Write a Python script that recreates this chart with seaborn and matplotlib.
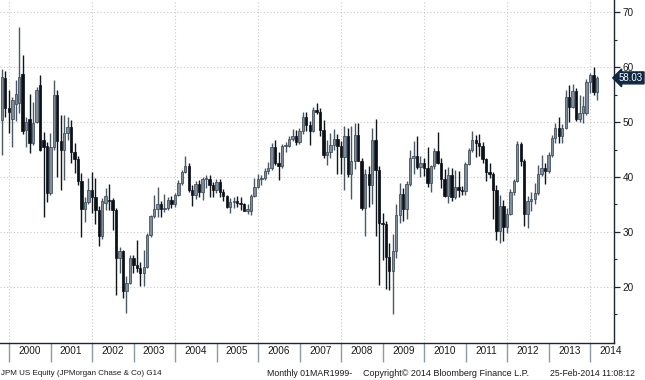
import pandas as pd
import matplotlib
matplotlib.use("Agg")
import matplotlib.pyplot as plt
import matplotlib.transforms as mtransforms
import seaborn as sns

# monthly candles, Oct 1999 .. Feb 2014 (month end)
months = pd.date_range("1999-10-31", "2014-02-28", freq="ME")

opens = [
    50.4, 58.0, 52.5,
    50.5, 53.2, 53.5, 58.8, 48.6, 50.6, 46.2, 50.0, 56.7, 46.7, 45.6, 37.1,
    45.5, 55.0, 46.6, 44.9, 48.0, 49.1, 44.6, 43.3, 39.2, 34.2, 35.4, 37.7,
    36.4, 34.0, 29.2, 35.3, 35.8, 35.8, 34.0, 25.2, 26.5, 19.2, 20.7, 25.2,
    24.0, 23.4, 22.6, 23.7, 29.4, 32.9, 34.2, 35.0, 34.2, 34.3, 35.9, 35.1,
    36.7, 38.9, 41.0, 42.0, 37.6, 36.8, 38.8, 37.3, 39.6, 39.7, 38.6, 37.7,
    39.0, 37.3, 36.6, 34.6, 35.5, 35.7, 35.3, 35.1, 33.9, 33.9, 36.6, 38.2,
    39.7, 39.8, 41.1, 41.6, 45.4, 42.6, 42.0, 45.6, 45.7, 46.9, 47.4, 46.3,
    48.3, 50.9, 49.4, 48.4, 52.1, 51.8, 48.5, 44.0, 44.5, 45.8, 47.0, 45.6,
    43.7, 47.5, 40.6, 43.0, 47.7, 43.0, 34.3, 40.6, 38.5, 46.7, 41.3, 31.6,
    31.5, 25.5, 22.9, 26.6, 33.0, 36.9, 34.1, 38.7, 43.5, 43.8, 41.8, 42.5,
    41.7, 38.9, 42.0, 44.8, 42.6, 39.6, 36.6, 40.3, 36.4, 38.1, 37.6, 37.4,
    42.4, 44.9, 46.7, 46.1, 45.6, 43.2, 40.9, 40.5, 37.6, 30.1, 34.8, 30.9,
    33.3, 37.3, 39.2, 46.0, 43.0, 33.2, 35.7, 36.0, 37.1, 40.5, 41.7, 41.1,
    44.0, 47.1, 48.9, 47.5, 49.0, 54.6, 52.8, 55.7, 50.5, 51.7, 51.6, 57.2,
    58.5, 55.4,
]
highs = [
    59.6, 59.2, 55.8,
    54.5, 57.6, 67.3, 62.2, 51.0, 55.1, 53.7, 56.4, 58.5, 48.2, 46.4, 48.0,
    57.6, 55.8, 51.3, 51.3, 51.0, 50.3, 46.1, 43.8, 40.7, 36.4, 39.8, 41.0,
    39.8, 34.8, 36.2, 38.0, 38.8, 36.1, 34.3, 27.3, 26.8, 21.9, 25.8, 25.8,
    28.5, 24.6, 26.7, 29.8, 33.0, 36.7, 38.2, 35.7, 36.9, 36.4, 36.6, 37.0,
    39.5, 41.3, 43.8, 42.6, 38.6, 39.2, 39.4, 40.0, 40.3, 40.3, 39.0, 39.7,
    39.7, 37.9, 36.8, 36.1, 36.4, 36.5, 36.3, 35.3, 35.0, 36.9, 39.8, 40.6,
    40.4, 41.6, 42.8, 46.1, 46.8, 44.6, 46.0, 46.4, 47.4, 48.8, 48.5, 49.0,
    51.9, 51.9, 50.2, 52.8, 53.4, 52.5, 50.4, 46.7, 48.0, 48.7, 47.9, 46.5,
    49.3, 49.0, 49.3, 49.8, 49.9, 43.5, 41.5, 42.0, 49.0, 50.6, 42.0, 33.5,
    32.0, 28.0, 29.6, 35.0, 38.9, 38.0, 39.3, 45.0, 46.5, 47.5, 43.8, 43.4,
    45.5, 42.2, 45.2, 48.2, 43.4, 41.5, 41.9, 41.7, 41.3, 41.1, 38.3, 42.7,
    45.2, 48.4, 47.6, 47.8, 46.4, 43.4, 42.5, 41.0, 38.5, 36.7, 35.9, 34.3,
    37.8, 39.7, 46.5, 46.3, 43.3, 36.6, 37.3, 38.9, 42.2, 44.0, 42.5, 44.5,
    47.6, 49.8, 51.0, 49.6, 55.9, 56.7, 57.0, 56.1, 54.9, 54.8, 57.8, 58.9,
    60.1, 58.4,
]
lows = [
    44.0, 51.0, 48.0,
    45.5, 50.1, 51.6, 47.8, 45.5, 44.3, 45.8, 49.8, 44.8, 32.8, 35.5, 36.8,
    45.0, 40.0, 37.6, 39.5, 46.7, 42.5, 40.7, 38.5, 29.0, 31.9, 35.0, 33.5,
    31.5, 27.5, 28.8, 34.0, 34.0, 30.4, 18.5, 22.5, 18.0, 15.3, 20.5, 22.5,
    22.8, 20.1, 20.1, 23.5, 29.0, 32.5, 32.8, 32.8, 33.6, 34.0, 34.3, 34.5,
    36.5, 38.5, 40.7, 37.3, 34.8, 36.0, 36.3, 35.8, 38.0, 36.3, 36.3, 37.0,
    36.3, 35.6, 34.3, 33.4, 34.3, 34.6, 34.0, 33.8, 33.2, 33.1, 36.3, 38.0,
    38.5, 39.4, 40.6, 41.3, 42.2, 39.4, 41.6, 44.6, 45.5, 46.5, 45.8, 46.0,
    47.9, 48.4, 45.9, 48.2, 51.5, 47.5, 43.5, 42.2, 43.5, 45.0, 40.5, 40.5,
    37.6, 40.0, 36.0, 41.5, 43.0, 34.0, 29.2, 34.5, 35.0, 29.3, 20.3, 24.9,
    19.7, 19.5, 15.0, 25.2, 31.6, 32.0, 32.3, 38.3, 40.5, 41.5, 40.0, 40.2,
    38.2, 37.3, 41.5, 42.3, 38.0, 36.3, 35.2, 35.7, 36.0, 36.3, 36.7, 36.8,
    42.2, 44.6, 43.7, 43.8, 42.6, 39.3, 39.8, 32.4, 28.5, 28.0, 28.4, 29.9,
    33.0, 36.8, 39.0, 42.0, 31.0, 30.8, 33.8, 35.0, 36.8, 40.2, 38.8, 40.8,
    43.7, 46.1, 46.1, 46.1, 48.8, 50.0, 52.5, 50.1, 50.0, 49.9, 51.2, 55.2,
    55.0, 54.0,
]
closes = [
    58.2, 52.5, 51.8,
    54.0, 55.1, 58.2, 48.3, 50.0, 46.2, 49.8, 55.8, 45.0, 45.5, 37.1, 45.4,
    55.0, 46.6, 44.9, 48.0, 49.1, 44.6, 43.3, 39.2, 34.2, 35.4, 37.7, 36.4,
    34.0, 29.2, 35.7, 36.5, 35.6, 34.0, 25.2, 26.5, 19.2, 20.7, 25.2, 24.0,
    23.4, 22.6, 23.7, 29.4, 32.9, 34.2, 35.0, 34.2, 34.3, 35.9, 35.1, 36.7,
    38.9, 41.0, 42.0, 37.6, 36.8, 38.8, 37.3, 39.6, 39.7, 38.6, 37.7, 39.0,
    37.3, 36.6, 34.6, 35.5, 35.7, 35.3, 35.1, 33.9, 33.9, 36.6, 38.2, 39.7,
    39.8, 41.1, 41.6, 45.4, 42.6, 42.0, 45.6, 45.7, 46.9, 47.4, 46.3, 48.3,
    50.9, 49.4, 48.4, 52.1, 51.8, 48.5, 44.0, 44.5, 45.8, 47.0, 45.6, 43.7,
    47.5, 40.6, 43.0, 47.7, 43.0, 34.3, 40.6, 38.5, 46.7, 41.3, 31.6, 31.5,
    25.5, 22.9, 26.6, 33.0, 36.9, 34.1, 38.7, 43.5, 43.8, 41.8, 42.5, 41.7,
    38.9, 42.0, 44.8, 42.6, 39.6, 36.6, 40.3, 36.4, 38.1, 37.6, 37.4, 42.4,
    44.9, 46.7, 46.1, 45.6, 43.2, 40.9, 40.5, 37.6, 30.1, 34.8, 30.9, 33.3,
    37.3, 39.2, 46.0, 43.0, 33.2, 35.7, 36.0, 37.1, 40.5, 41.7, 41.1, 44.0,
    47.1, 48.9, 47.5, 49.0, 54.6, 52.8, 55.7, 50.5, 51.7, 53.0, 57.2, 58.5,
    55.4, 58.03,
]
years = list(range(1999, 2015))
last_price = 58.03

df = pd.DataFrame({"date": months, "open": opens, "high": highs,
                   "low": lows, "close": closes})
df["up"] = df["close"] >= df["open"]
df["bottom"] = df[["open", "close"]].min(axis=1)
df["height"] = (df["close"] - df["open"]).abs().clip(lower=0.2)

sns.set_style("white")
plt.rcParams["font.family"] = ["Liberation Sans", "DejaVu Sans"]

fig = plt.figure(figsize=(6.45, 3.8), dpi=100)
ax = fig.add_axes([0, 37 / 380, 614 / 645, 343 / 380])

up_fill, up_edge = "#7f8c9c", "#34414f"
down_fill = "#0b1118"

# grid
for yv in range(20, 71, 10):
    ax.axhline(yv, color="#c9c9c9", lw=0.8, ls=(0, (1, 2)), zorder=0)
for yr in years:
    if yr % 2 == 0:
        ax.axvline(pd.Timestamp(f"{yr}-01-01"), color="#c9c9c9", lw=0.8,
                   ls=(0, (1, 2)), zorder=0)

# wicks
ax.vlines(df["date"], df["low"], df["high"],
          colors=["#4b5866" if u else "#10161d" for u in df["up"]],
          lw=1.0, zorder=2)
# bodies
up = df[df["up"]]
dn = df[~df["up"]]
ax.bar(up["date"], up["height"], bottom=up["bottom"], width=20,
       color=up_fill, edgecolor=up_edge, linewidth=0.5, zorder=3)
ax.bar(dn["date"], dn["height"], bottom=dn["bottom"], width=20,
       color=down_fill, edgecolor=down_fill, linewidth=0.5, zorder=3)

# x axis: separators at year starts, labels at mid-year
ax.set_xticks([pd.Timestamp(f"{y}-01-01") for y in years])
ax.set_xticklabels([])
ax.set_xticks([pd.Timestamp(f"{y}-07-01") for y in years], minor=True)
ax.set_xticklabels([str(y) for y in years], minor=True)
ax.tick_params(axis="x", which="major", direction="out", length=14,
               width=1, color="#8e9aa8", bottom=True)
ax.tick_params(axis="x", which="minor", length=0, pad=2.5,
               labelsize=7.2, labelcolor="#1a1a1a")

# y axis on the right
ax.yaxis.tick_right()
ax.set_yticks(range(20, 71, 10))
ax.set_yticks(range(15, 71, 10), minor=True)
ax.tick_params(axis="y", which="major", direction="out", length=4.5,
               width=0.9, color="#1c2733", labelsize=7.2,
               labelcolor="#1a1a1a", pad=1.5, right=True)
ax.tick_params(axis="y", which="minor", direction="out", length=2.5,
               width=0.8, color="#1c2733", right=True)

# limits last, setting ticks widens the view
ax.set_xlim(pd.Timestamp("1999-10-14"), pd.Timestamp("2014-07-30"))
ax.set_ylim(9.8, 72.2)

for side in ["top", "left"]:
    ax.spines[side].set_visible(False)
for side in ["bottom", "right"]:
    ax.spines[side].set_color("#1c2733")
    ax.spines[side].set_linewidth(1.0)

# last price tag
trans = mtransforms.blended_transform_factory(ax.transAxes, ax.transData)
ax.text(1.008, last_price, f"{last_price:.2f}", transform=trans,
        ha="left", va="center", fontsize=7, color="white",
        bbox=dict(boxstyle="larrow,pad=0.1", fc="#0f2945", ec="#0f2945"),
        clip_on=False, zorder=5)

# footer
ink = "#1a1a1a"
fig.text(1 / 645, 0.018, "JPM US Equity (JPMorgan Chase & Co) G14",
         fontsize=5.8, color=ink, va="center")
fig.text(267 / 645, 0.018, "Monthly 01MAR1999-", fontsize=6.3,
         color=ink, va="center")
fig.text(363 / 645, 0.018, "Copyright\u00a9 2014 Bloomberg Finance L.P.",
         fontsize=6.5, color=ink, va="center")
fig.text(550 / 645, 0.018, "25-Feb-2014 11:08:12", fontsize=6.2,
         color=ink, va="center")

fig.savefig("out.png", dpi=100)
